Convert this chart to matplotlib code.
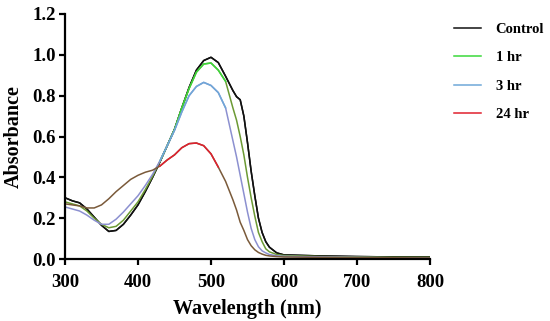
import numpy as np
import matplotlib
matplotlib.use("Agg")
import matplotlib.pyplot as plt

plt.rcParams['font.family'] = ['Liberation Serif', 'DejaVu Serif']
plt.rcParams['font.weight'] = 'bold'

wl = [300, 310, 320, 330, 340, 350, 360, 370, 380, 390, 400, 410, 420, 430, 440,
      450, 460, 470, 480, 490, 500, 510, 520, 530, 535, 540, 545, 550, 555, 560,
      565, 570, 575, 580, 590, 600, 650, 700, 750, 800]

control = [0.300, 0.285, 0.275, 0.245, 0.205, 0.165, 0.135, 0.140, 0.170, 0.215,
           0.265, 0.330, 0.400, 0.475, 0.555, 0.635, 0.740, 0.840, 0.925, 0.972,
           0.988, 0.962, 0.895, 0.825, 0.795, 0.780, 0.700, 0.570, 0.430, 0.310,
           0.200, 0.130, 0.085, 0.058, 0.030, 0.020, 0.015, 0.012, 0.010, 0.010]
hr1 = [0.280, 0.270, 0.260, 0.235, 0.200, 0.170, 0.153, 0.160, 0.190, 0.235,
       0.280, 0.340, 0.405, 0.478, 0.555, 0.635, 0.740, 0.835, 0.915, 0.955,
       0.960, 0.925, 0.870, 0.740, 0.680, 0.600, 0.510, 0.400, 0.300, 0.210,
       0.130, 0.085, 0.050, 0.035, 0.022, 0.017, 0.012, 0.010, 0.008, 0.008]
hr3 = [0.255, 0.245, 0.235, 0.215, 0.190, 0.170, 0.170, 0.195, 0.230, 0.270,
       0.310, 0.360, 0.415, 0.480, 0.555, 0.630, 0.720, 0.800, 0.845, 0.865,
       0.850, 0.815, 0.740, 0.580, 0.500, 0.410, 0.320, 0.230, 0.150, 0.095,
       0.060, 0.040, 0.030, 0.022, 0.016, 0.013, 0.010, 0.008, 0.006, 0.005]
hr24 = [0.270, 0.265, 0.260, 0.250, 0.250, 0.265, 0.295, 0.330, 0.360, 0.390,
        0.410, 0.425, 0.435, 0.455, 0.485, 0.510, 0.545, 0.565, 0.568, 0.555,
        0.515, 0.450, 0.380, 0.290, 0.240, 0.180, 0.140, 0.095, 0.065, 0.045,
        0.032, 0.024, 0.018, 0.015, 0.012, 0.010, 0.008, 0.007, 0.006, 0.005]

labels = ['Control', '1 hr', '3 hr', '24 hr']
colors = ['#111111', '#3ad83a', '#6fa8d8', '#e0202e']
# the lines look darker/muddier outside the peak region in the original
side_colors = ['#111111', '#6c9a34', '#8c90d0', '#7a5a3a']
main_range = [(300, 800), (425, 525), (425, 525), (425, 510)]

fig = plt.figure(figsize=(5.5, 3.21), dpi=100)
ax = fig.add_axes([65 / 550, 1 - 259 / 321, 365 / 550, 245 / 321])

x = np.array(wl)
for ys, c, sc, (lo, hi), lab in zip([control, hr1, hr3, hr24], colors, side_colors, main_range, labels):
    y = np.array(ys)
    ax.plot(x, y, color=sc, lw=1.1)
    m = (x >= lo) & (x <= hi)
    ax.plot(x[m], y[m], color=c, lw=1.1)
    ax.plot([], [], color=c, lw=1.1, label=lab)

ax.set_xlim(300, 800)
ax.set_ylim(0, 1.2)
ax.set_xticks([300, 400, 500, 600, 700, 800])
ax.set_yticks([0.0, 0.2, 0.4, 0.6, 0.8, 1.0, 1.2])
ax.set_yticklabels(['0.0', '0.2', '0.4', '0.6', '0.8', '1.0', '1.2'])
for s in ['top', 'right']:
    ax.spines[s].set_visible(False)
for s in ['left', 'bottom']:
    ax.spines[s].set_linewidth(1.6)
ax.tick_params(width=1.6, length=4.5, labelsize=13.5)
ax.tick_params(axis='x', pad=6)
ax.tick_params(axis='y', pad=2)
ax.set_xlabel('Wavelength (nm)', fontsize=14.5, fontweight='bold', labelpad=6)
ax.set_ylabel('Absorbance', fontsize=14.5, fontweight='bold', labelpad=6)

fig.legend(loc='upper left', bbox_to_anchor=(454 / 550, 1 - 23 / 321), frameon=False,
           fontsize=10.5, handlelength=1.85, handletextpad=1.0, labelspacing=1.03,
           borderpad=0, borderaxespad=0)

fig.savefig('out.png', dpi=100)
